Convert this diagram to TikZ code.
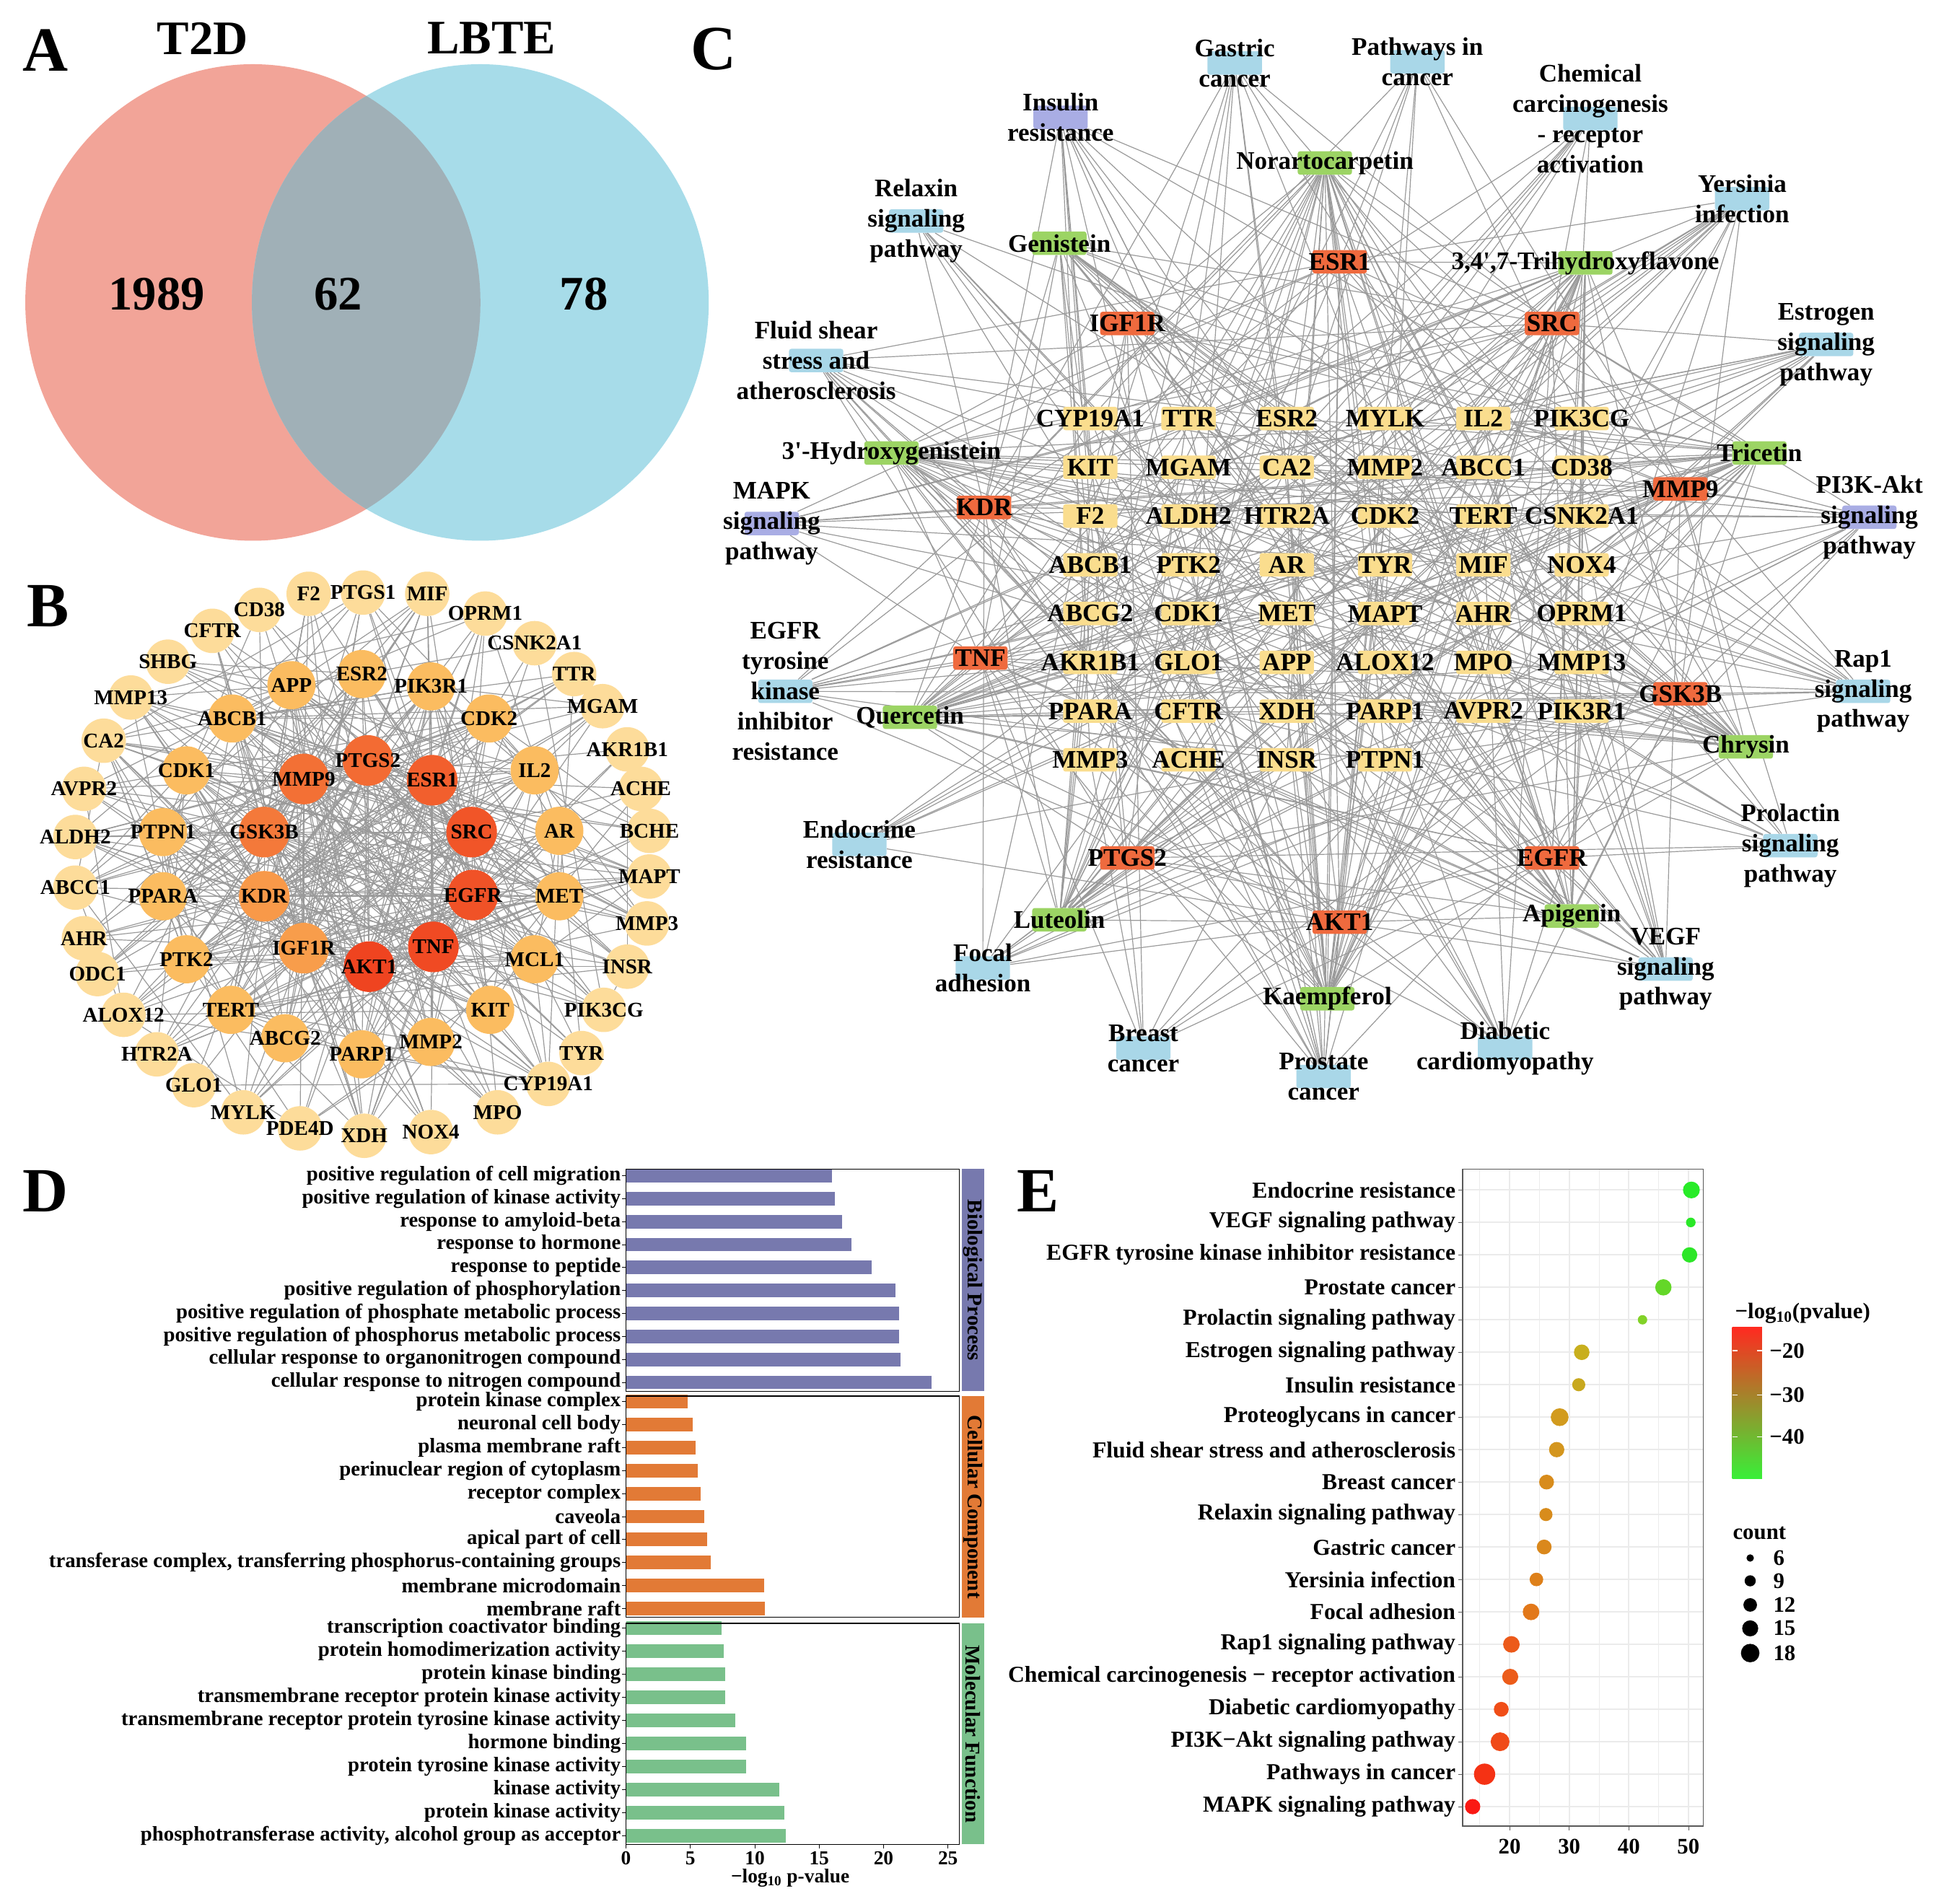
\documentclass[tikz,border=0pt]{standalone}
\usepackage{fontspec}
\setmainfont{Liberation Serif}[Ligatures=TeXOff]
\usetikzlibrary{backgrounds}

% colours
\definecolor{vennL}{HTML}{F2A498}
\definecolor{vennR}{HTML}{A7DCE9}
\definecolor{vennM}{HTML}{A0B0B7}
\definecolor{bYel}{HTML}{FDDC9A}
\definecolor{bOrg}{HTML}{FBBC60}
\definecolor{bHot}{HTML}{EF4420}
\definecolor{bWarm}{HTML}{F9A54F}
\definecolor{tgY}{HTML}{FADD8E}
\definecolor{hubR}{HTML}{EF6A3E}
\definecolor{cmpG}{HTML}{9CD464}
\definecolor{pwB}{HTML}{A9D7E8}
\definecolor{pwP}{HTML}{A9ADE4}
\definecolor{bpC}{HTML}{7779AE}
\definecolor{ccC}{HTML}{E27A36}
\definecolor{mfC}{HTML}{79C08B}
\definecolor{lkC}{HTML}{9A9A9A}
\definecolor{grd}{HTML}{EBEBEB}
\definecolor{lgRed}{HTML}{FF2A20}
\definecolor{lgMid}{HTML}{C8A010}
\definecolor{lgGrn}{HTML}{38F038}

% draw a link between two named nodes with chance #1
\newcommand\maybelink[3]{%
  \pgfmathsetmacro\rv{rnd}%
  \ifdim\rv pt<#1pt\relax\draw[lk] (#2) -- (#3);\fi}

\begin{document}
\begin{tikzpicture}[x=1pt, y=-1pt, font=\bfseries,
    panel/.style={font=\bfseries\fontsize{51}{51}\selectfont, inner sep=0pt},
    venn/.style={font=\bfseries\fontsize{39}{39}\selectfont, inner sep=0pt},
    lk/.style={draw=lkC, line width=0.7pt},
    btx/.style={font=\bfseries\fontsize{17}{17}\selectfont, inner sep=0pt},
    bout/.style={circle, fill=bYel, minimum size=36pt, inner sep=0pt, label={[btx]center:#1}},
    bmid/.style={bout={#1}, fill=bOrg, minimum size=39pt},
    bin/.style 2 args={bout={#1}, fill=bHot!#2!bWarm, minimum size=41pt},
    ctx/.style={font=\bfseries\fontsize{20.5}{24.5}\selectfont, align=center, inner sep=0pt},
    tg/.style={rectangle, fill=tgY, rounded corners=2pt, minimum width=44pt, minimum height=19pt, inner sep=0pt, label={[ctx]center:#1}},
    hub/.style={tg={#1}, fill=hubR},
    cmp/.style={tg={#1}, fill=cmpG},
    pw/.style={tg={#1}, fill=pwB},
    pwp/.style={tg={#1}, fill=pwP},
    dlab/.style={font=\bfseries\fontsize{16.8}{17}\selectfont, anchor=east, inner sep=0pt},
    strip/.style={font=\bfseries\fontsize{17}{17}\selectfont, rotate=-90, inner sep=0pt},
    dtick/.style={font=\bfseries\fontsize{16}{16}\selectfont, inner sep=0pt},
    elab/.style={font=\bfseries\fontsize{18.5}{19}\selectfont, anchor=east, inner sep=0pt},
    etick/.style={font=\bfseries\fontsize{18}{18}\selectfont, inner sep=0pt}]
\useasboundingbox (0,0) rectangle (1568,1542);
\begin{pgfonlayer}{background}
  \fill[white] (0,0) rectangle (1568,1542);
\end{pgfonlayer}

% ---- A: venn ----
\fill[vennL] (204.8,245) ellipse [x radius=184.3, y radius=193];
\fill[vennR] (389,245) ellipse [x radius=185, y radius=193];
\begin{scope}
  \clip (204.8,245) ellipse [x radius=184.3, y radius=193];
  \fill[vennM] (389,245) ellipse [x radius=185, y radius=193];
\end{scope}
\node[panel] (la) at (37,41) {A};
\node[venn] (t2d) at (164,31) {T2D};
\node[venn] (lbte) at (398,31) {LBTE};
\node[venn] (only1) at (127,238) {1989};
\node[venn] (both) at (274,238) {62};
\node[venn] (only2) at (473,238) {78};

% ---- B: PPI network ----
\node[panel] (lb) at (39,491) {B};
% nodes
\foreach \t/\x/\y [count=\k] in {F2/250/481, PTGS1/294/480, MIF/346/481, OPRM1/393/497,
    CSNK2A1/433/521, TTR/465/546, MGAM/488/572, AKR1B1/508/607, ACHE/519/639,
    BCHE/526/673, MAPT/526/710, MMP3/524/748, INSR/508/783, PIK3CG/489/818,
    TYR/471/853, CYP19A1/444/878, MPO/403/901, NOX4/349/917, XDH/295/920,
    PDE4D/243/914, MYLK/197/901, GLO1/157/879, HTR2A/127/854, ALOX12/100/822,
    ODC1/79/789, AHR/68/760, ABCC1/61/719, ALDH2/61/678, AVPR2/68/639, CA2/84/600,
    MMP13/106/565, SHBG/136/536, CFTR/172/511, CD38/210/494}
  \node[bout=\t] (by\k) at (\x,\y) {};
\foreach \t/\x/\y [count=\k] in {APP/236/555, ESR2/293/546, PIK3R1/349/556, CDK2/396/582,
    IL2/433/624, AR/453/673, MET/453/726, MCL1/433/777, KIT/397/818, MMP2/349/844,
    PARP1/293/854, ABCG2/231/841, TERT/187/818, PTK2/151/777, PPARA/132/726,
    PTPN1/132/674, CDK1/151/624, ABCB1/188/582}
  \node[bmid=\t] (bo\k) at (\x,\y) {};
\foreach \t/\x/\y/\pc [count=\k] in {PTGS2/298/616/60, ESR1/350/632/72, SRC/382/674/82,
    EGFR/383/725/86, TNF/351/767/94, AKT1/299/783/100, IGF1R/246/768/8,
    KDR/214/726/12, GSK3B/214/674/45, MMP9/246/631/55}
  \node[bin={\t}{\pc}] (br\k) at (\x,\y) {};

% ---- C: compound-target-pathway network ----
\node[panel] (lc) at (578,40) {C};
% targets
\foreach \t [count=\k from 0] in {CYP19A1,TTR,ESR2,MYLK,IL2,PIK3CG,KIT,MGAM,CA2,MMP2,ABCC1,CD38,
    F2,ALDH2,HTR2A,CDK2,TERT,CSNK2A1,ABCB1,PTK2,AR,TYR,MIF,NOX4,ABCG2,CDK1,MET,MAPT,AHR,OPRM1,
    AKR1B1,GLO1,APP,ALOX12,MPO,MMP13,PPARA,CFTR,XDH,PARP1,AVPR2,PIK3R1,MMP3,ACHE,INSR,PTPN1}{
  \pgfmathtruncatemacro\ci{mod(\k,6)}
  \pgfmathtruncatemacro\ri{div(\k,6)}
  \node[tg=\t] (ct\k) at (883+79.6*\ci,339+39.5*\ri) {};
}
\node[hub=ESR1] (cr1) at (1085,212) {};
\node[hub=IGF1R] (cr2) at (913,262) {};
\node[hub=SRC] (cr3) at (1257,262) {};
\node[hub=KDR] (cr4) at (797,411) {};
\node[hub=MMP9] (cr5) at (1361,396) {};
\node[hub=TNF] (cr6) at (794,533) {};
\node[hub=GSK3B] (cr7) at (1361,562) {};
\node[hub=PTGS2] (cr8) at (913,695) {};
\node[hub=EGFR] (cr9) at (1257,695) {};
\node[hub=AKT1] (cr10) at (1085,747) {};
% compounds
\node[cmp=Norartocarpetin] (cg1) at (1073,132) {};
\node[cmp=Genistein] (cg2) at (858,197) {};
\node[cmp={3,4',7-Trihydroxyflavone}] (cg3) at (1284,213) {};
\node[cmp={3'-Hydroxygenistein}] (cg4) at (722,367) {};
\node[cmp=Tricetin] (cg5) at (1425,367) {};
\node[cmp=Quercetin] (cg6) at (737,581) {};
\node[cmp=Chrysin] (cg7) at (1414,605) {};
\node[cmp=Luteolin] (cg8) at (858,745) {};
\node[cmp=Apigenin] (cg9) at (1273,742) {};
\node[cmp=Kaempferol] (cg10) at (1075,809) {};
% pathways
\node[pw={Gastric\\cancer}] (cp1) at (1000,51) {};
\node[pw={Pathways in\\cancer}] (cp2) at (1148,50) {};
\node[pw={Chemical\\carcinogenesis\\- receptor\\activation}] (cp3) at (1288,96) {};
\node[pwp={Insulin\\resistance}] (cp4) at (859,95) {};
\node[pw={Yersinia\\infection}] (cp5) at (1411,161) {};
\node[pw={Relaxin\\signaling\\pathway}] (cp6) at (742,179) {};
\node[pw={Estrogen\\signaling\\pathway}] (cp7) at (1479,279) {};
\node[pw={Fluid shear\\stress and\\atherosclerosis}] (cp8) at (661,292) {};
\node[pwp={MAPK\\signaling\\pathway}] (cp9) at (625,424) {};
\node[pwp={PI3K-Akt\\signaling\\pathway}] (cp10) at (1514,419) {};
\node[pw={EGFR\\tyrosine\\kinase\\inhibitor\\resistance}] (cp11) at (636,560) {};
\node[pw={Rap1\\signaling\\pathway}] (cp12) at (1509,560) {};
\node[pw={Endocrine\\resistance}] (cp13) at (696,684) {};
\node[pw={Prolactin\\signaling\\pathway}] (cp14) at (1450,685) {};
\node[pw={Focal\\adhesion}] (cp15) at (796,784) {};
\node[pw={VEGF\\signaling\\pathway}] (cp16) at (1349,785) {};
\node[pw={Breast\\cancer}] (cp17) at (926,849) {};
\node[pw={Diabetic\\cardiomyopathy}] (cp18) at (1219,849) {};
\node[pw={Prostate\\cancer}] (cp19) at (1072,872) {};

% edges
\begin{pgfonlayer}{background}
\pgfmathsetseed{7}
\foreach \i in {1,...,10}{
  \foreach \j in {1,...,10}{\ifnum\j>\i\relax\maybelink{0.75}{br\i}{br\j}\fi}
  \foreach \j in {1,...,18}{\maybelink{0.65}{br\i}{bo\j}}
  \foreach \j in {1,...,34}{\maybelink{0.4}{br\i}{by\j}}
}
\foreach \i in {1,...,18}{
  \foreach \j in {1,...,18}{\ifnum\j>\i\relax\maybelink{0.35}{bo\i}{bo\j}\fi}
  \foreach \j in {1,...,34}{\maybelink{0.17}{bo\i}{by\j}}
}
\foreach \i in {1,...,34}{
  \foreach \j in {1,...,34}{\ifnum\j>\i\relax\maybelink{0.04}{by\i}{by\j}\fi}
}
\foreach \g in {1,...,10}{
  \foreach \j in {0,...,45}{\maybelink{0.45}{cg\g}{ct\j}}
  \foreach \j in {1,...,10}{\maybelink{0.75}{cg\g}{cr\j}}
}
\foreach \p in {1,...,19}{
  \foreach \j in {0,...,45}{\maybelink{0.14}{cp\p}{ct\j}}
  \foreach \j in {1,...,10}{\maybelink{0.55}{cp\p}{cr\j}}
}
\end{pgfonlayer}

% ---- D: GO bars ----
\node[panel] (ld) at (37,965) {D};
\foreach \t/\v [count=\k from 0] in {positive regulation of cell migration/16.0,
    positive regulation of kinase activity/16.2, response to amyloid-beta/16.8,
    response to hormone/17.5, response to peptide/19.1,
    positive regulation of phosphorylation/20.9,
    positive regulation of phosphate metabolic process/21.2,
    positive regulation of phosphorus metabolic process/21.2,
    cellular response to organonitrogen compound/21.3,
    cellular response to nitrogen compound/23.7}{
  \pgfmathsetmacro\yy{952.3+18.6*\k}
  \fill[bpC] (507,\yy-5.5) rectangle (507+10.43*\v,\yy+5.5);
  \draw (504,\yy) -- (507,\yy);
  \node[dlab] (bp\k) at (503,\yy) {\t};
}
\foreach \t/\v [count=\k from 0] in {protein kinase complex/4.8, neuronal cell body/5.2,
    plasma membrane raft/5.4, perinuclear region of cytoplasm/5.6, receptor complex/5.8,
    caveola/6.1, apical part of cell/6.3,
    {transferase complex, transferring phosphorus-containing groups}/6.6,
    membrane microdomain/10.7, membrane raft/10.8}{
  \pgfmathsetmacro\yy{1135.4+18.6*\k}
  \fill[ccC] (507,\yy-5.5) rectangle (507+10.43*\v,\yy+5.5);
  \draw (504,\yy) -- (507,\yy);
  \node[dlab] (cc\k) at (503,\yy) {\t};
}
\foreach \t/\v [count=\k from 0] in {transcription coactivator binding/7.4,
    protein homodimerization activity/7.6, protein kinase binding/7.7,
    transmembrane receptor protein kinase activity/7.7,
    transmembrane receptor protein tyrosine kinase activity/8.5, hormone binding/9.3,
    protein tyrosine kinase activity/9.3, kinase activity/11.9,
    protein kinase activity/12.3,
    {phosphotransferase activity, alcohol group as acceptor}/12.4}{
  \pgfmathsetmacro\yy{1318.8+18.7*\k}
  \fill[mfC] (507,\yy-5.5) rectangle (507+10.43*\v,\yy+5.5);
  \draw (504,\yy) -- (507,\yy);
  \node[dlab] (mf\k) at (503,\yy) {\t};
}
\draw[line width=1pt] (507,947) rectangle (777,1127);
\draw[line width=1pt] (507,1131) rectangle (777,1310);
\draw[line width=1pt] (507,1315) rectangle (777,1494);
\fill[bpC] (779,947) rectangle (797,1127);
\fill[ccC] (779,1131) rectangle (797,1310);
\fill[mfC] (779,1315) rectangle (797,1494);
\node[strip] (sbp) at (788,1037) {Biological Process};
\node[strip] (scc) at (788,1220.5) {Cellular Component};
\node[strip] (smf) at (788,1404.5) {Molecular Function};
\foreach \v in {0,5,...,25}{
  \draw (507+10.43*\v,1494) -- ++(0,3);
  \node[dtick] at (507+10.43*\v,1505) {\v};
}
\node[dtick] (dxl) at (640,1521) {−log\textsubscript{10} p-value};

% ---- E: KEGG dots ----
\node[panel] (le) at (841,965) {E};
\fill[white] (1184.5,947) rectangle (1379.5,1479);
\foreach \v in {15,25,35,45}
  \draw[grd, line width=0.5pt] (1126.1+4.827*\v,947) -- (1126.1+4.827*\v,1479);
\foreach \v in {20,30,40,50}
  \draw[grd, line width=1.2pt] (1126.1+4.827*\v,947) -- (1126.1+4.827*\v,1479);
\foreach \k in {0,...,19}
  \draw[grd, line width=1.2pt] (1184.5,963.9+26.29*\k) -- (1379.5,963.9+26.29*\k);
\draw[black!65, line width=1pt] (1184.5,947) rectangle (1379.5,1479);
\foreach \t/\v/\s/\colR/\colG/\colB [count=\k from 0] in {
    Endocrine resistance/50.5/6.8/40/235/40,
    VEGF signaling pathway/50.4/3.9/42/232/40,
    EGFR tyrosine kinase inhibitor resistance/50.2/6.2/45/230/40,
    Prostate cancer/45.8/6.6/100/215/40,
    Prolactin signaling pathway/42.3/3.8/130/210/40,
    Estrogen signaling pathway/32.1/6.3/200/175/30,
    Insulin resistance/31.6/5.3/200/168/30,
    Proteoglycans in cancer/28.4/7.2/210/155/30,
    Fluid shear stress and atherosclerosis/27.9/6.2/212/150/30,
    Breast cancer/26.2/6.0/216/140/28,
    Relaxin signaling pathway/26.1/5.3/216/140/28,
    Gastric cancer/25.8/6.0/218/136/28,
    Yersinia infection/24.5/5.5/222/128/26,
    Focal adhesion/23.6/6.7/226/120/26,
    Rap1 signaling pathway/20.3/6.7/236/90/26,
    Chemical carcinogenesis − receptor activation/20.1/6.5/236/92/26,
    Diabetic cardiomyopathy/18.6/6.0/240/78/24,
    PI3K−Akt signaling pathway/18.4/7.6/240/74/24,
    Pathways in cancer/15.8/8.6/245/50/20,
    MAPK signaling pathway/13.8/6.2/250/25/20}{
  \pgfmathsetmacro\yy{963.9+26.29*\k}
  \definecolor{dotC}{RGB}{\colR,\colG,\colB}
  \fill[dotC] (1126.1+4.827*\v,\yy) circle [radius=\s];
  \draw[black!65] (1181,\yy) -- (1184.5,\yy);
  \node[elab] (e\k) at (1179,\yy) {\t};
}
\foreach \v in {20,30,40,50}{
  \draw[black!65] (1126.1+4.827*\v,1479) -- ++(0,3.5);
  \node[etick] at (1126.1+4.827*\v,1496) {\v};
}
% legend
\node[etick] (lgt) at (1460,1064) {−log\textsubscript{10}(pvalue)};
\shade[top color=lgRed, middle color=lgMid, bottom color=lgGrn] (1403,1075) rectangle (1427,1198);
\foreach \yy/\n in {1094/−20, 1130/−30, 1164/−40}{
  \draw[white, line width=0.8pt] (1403,\yy) -- ++(4,0) (1427,\yy) -- ++(-4,0);
  \node[etick, anchor=west] at (1433,\yy) {\n};
}
\node[etick] (lgc) at (1425,1242) {count};
\foreach \n/\yy/\s in {6/1262/3.0, 9/1280.5/4.5, 12/1300/5.5, 15/1319/6.5, 18/1339/7.5}{
  \fill (1417.5,\yy) circle [radius=\s];
  \node[etick, anchor=west] at (1436,\yy) {\n};
}
\end{tikzpicture}
\end{document}
